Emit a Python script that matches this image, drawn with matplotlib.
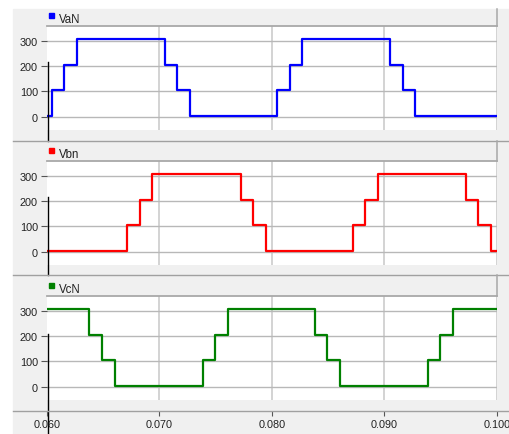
import matplotlib
matplotlib.use('Agg')
import matplotlib.pyplot as plt
from matplotlib.patches import Rectangle
from matplotlib.lines import Line2D

plt.rcParams['font.family'] = ['Liberation Sans', 'DejaVu Sans']

# step edges (time [s], level [V], held until next edge)
van_t = [0.060, 0.06044, 0.06157, 0.06269, 0.07049, 0.07158, 0.07274,
         0.08044, 0.08160, 0.08272, 0.09052, 0.09164, 0.09276, 0.100]
van_v = [5, 105, 205, 305, 205, 105, 5, 105, 205, 305, 205, 105, 5, 5]

vbn_t = [0.060, 0.06717, 0.06827, 0.06939, 0.07724, 0.07834, 0.07947,
         0.08720, 0.08829, 0.08942, 0.09727, 0.09836, 0.09949, 0.100]
vbn_v = [5, 105, 205, 305, 205, 105, 5, 105, 205, 305, 205, 105, 5, 5]

vcn_t = [0.060, 0.06379, 0.06492, 0.06607, 0.07387, 0.07499, 0.07612,
         0.08384, 0.08495, 0.08608, 0.09390, 0.09500, 0.09612, 0.100]
vcn_v = [305, 205, 105, 5, 105, 205, 305, 205, 105, 5, 105, 205, 305, 305]

names = ['VaN', 'Vbn', 'VcN']
colors = ['#0000ff', '#ff0000', '#008000']
x_ticks = [0.060, 0.070, 0.080, 0.090, 0.100]
y_ticks = [0, 100, 200, 300]
cursor_t = 0.06009
cursor_top = [217, 215, 209]

W, H = 510, 435
fig = plt.figure(figsize=(W / 100, H / 100), dpi=100)
fig.patch.set_facecolor('white')


def fx(x):
    return x / W


def fy(y):
    return 1 - y / H


def rect(x0, y0, x1, y1):
    return [fx(x0), fy(y1), (x1 - x0) / W, (y1 - y0) / H]


def fline(xs, ys, color='#a0a0a0', lw=1.0):
    fig.add_artist(Line2D([fx(v) for v in xs], [fy(v) for v in ys],
                          transform=fig.transFigure, color=color, lw=lw))


# grey window background
fig.add_artist(Rectangle((fx(13), 0), 1 - fx(13), fy(10),
                         transform=fig.transFigure, color='#f0f0f0', zorder=-5))

L, R = 46.7, 496.7
panels = [  # header top, plot top, plot bottom, separator below
    (10, 27, 131, 141.7),
    (141.7, 162, 266, 276),
    (276, 297, 401, 412),
]
series = [(van_t, van_v), (vbn_t, vbn_v), (vcn_t, vcn_v)]

for i, (htop, ptop, pbot, sep) in enumerate(panels):
    ax = fig.add_axes(rect(L, ptop, R, pbot))
    ax.set_facecolor('white')
    t, v = series[i]
    ax.step(t, v, where='post', color=colors[i], lw=1.6, zorder=3)
    ax.set_xlim(0.060, 0.100)
    ax.set_ylim(-52, 358)
    ax.set_xticks(x_ticks[1:])
    ax.set_yticks(y_ticks)
    ax.tick_params(axis='x', length=0, labelbottom=False)
    ax.tick_params(axis='y', length=4.3, width=0.8, color='#555555',
                   pad=2, labelsize=7.8, labelcolor='#222222')
    ax.grid(axis='x', color='#c8c8c8', lw=1.1)
    ax.grid(axis='y', color='#b8b8b8', lw=1.0)
    for s in ax.spines.values():
        s.set_visible(False)

    # cursor line running down past the plot
    bottom_px = H if i == 2 else sep
    y_bot = -52 - (bottom_px - pbot) / (pbot - ptop) * 410
    ax.plot([cursor_t, cursor_t], [cursor_top[i], y_bot], color='black',
            lw=1.0, clip_on=False, zorder=6)

    # header strip with legend entry
    fline([L, R], [ptop, ptop], color='#a8a8a8', lw=1.3)
    fline([R, R], [htop, ptop], color='#a8a8a8', lw=1.1)
    fig.add_artist(Rectangle((fx(49.3), fy(ptop - 8.3)), 5.2 / W, 4.8 / H,
                             transform=fig.transFigure, color=colors[i]))
    fig.text(fx(59), fy(ptop - 4.3), names[i], fontsize=8.3, color='#222222',
             va='baseline', ha='left')

    # separator under each panel
    fline([13, W], [sep, sep], color='#a0a0a0', lw=1.0)

# time axis strip
axx = fig.add_axes(rect(L, 412, R, 418))
axx.patch.set_visible(False)
axx.set_xlim(0.060, 0.100)
axx.set_yticks([])
axx.set_xticks(x_ticks)
axx.set_xticklabels(['%.3f' % v for v in x_ticks])
axx.tick_params(axis='x', top=True, bottom=False, labelbottom=True,
                direction='in', length=3.4, width=0.8, color='#555555',
                pad=1.5, labelsize=7.8, labelcolor='#222222')
for s in axx.spines.values():
    s.set_visible(False)

fig.savefig('out.png', dpi=100)
